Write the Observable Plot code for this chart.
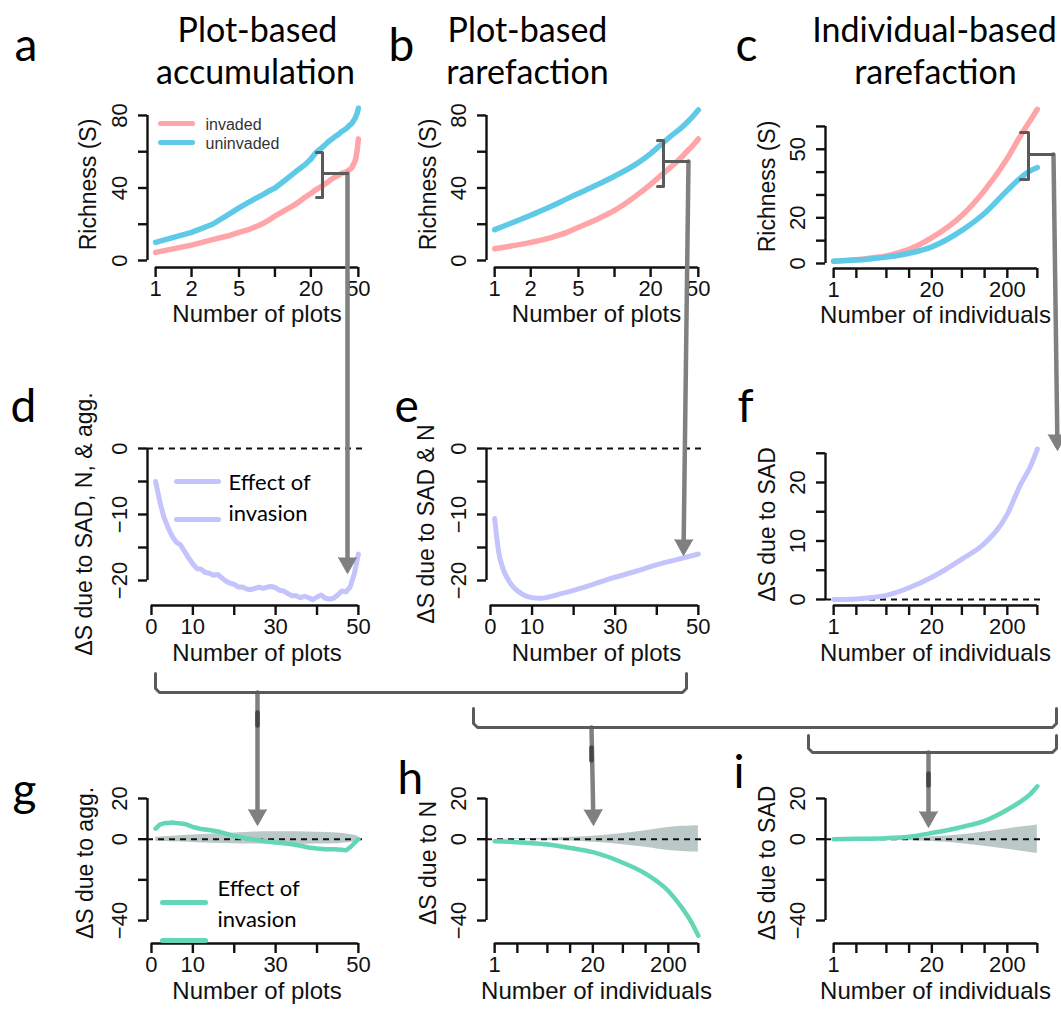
<!DOCTYPE html>
<html><head><meta charset="utf-8">
<script src="https://cdn.jsdelivr.net/npm/d3@7"></script>
<script src="https://cdn.jsdelivr.net/npm/@observablehq/plot@0.6"></script>
<style>
body{margin:0;background:#fff;}
#fig{position:relative;width:1061px;height:1012px;overflow:hidden;background:#fff;}
#fig svg{position:absolute;}
</style></head><body><div id="fig"></div><script>
// ---------------- DATA ----------------
// a: plot-based accumulation
const aPlots = [1,2,3,4,5,6,7,8,9,10,12,14,16,18,20,22,24,26,28,30,32,34,36,38,40,42,44,45,46,47,48,49,50];
const aUninvaded = [10,15.5,20,25,29,32,34.5,36.5,38.5,40,44,47.5,50.5,53,56,59.5,61.5,63.5,65.5,67,68.5,69.5,71,72,73,74.5,75.5,76.5,77.5,78.5,80,81.5,84];
const aInvaded = [4.5,8.5,11.5,13.5,15.5,17,18.8,20.5,22.5,24.5,27.5,30,32.5,35,37,39,40.5,42,43.5,45,46,47,48,48.5,49,50,51,52.5,53.5,55,57.5,61.5,67];
// b: plot-based rarefaction
const bPlots = [1,2,3,4,5,7,10,15,20,25,30,35,40,45,50];
const bUninvaded = [17,25,30,34,37,41.5,46.5,53,59,64.5,69,72.5,76,79.5,83];
const bInvaded = [6.5,10,12.8,15.5,18.3,22.5,27.6,35.5,42,47.5,52,56,60,63.5,67];
// c: individual-based rarefaction
const cIndiv = [1,2,3,5,10,20,50,100,200,300,400,500];
const cInvaded = [1,1.7,2.3,3.3,6.2,11.3,21,32,46,56,62.5,67.5];
const cUninvaded = [1,1.5,2,2.8,4.5,7.3,14.5,22,32,37.5,40.5,42];
// d: ΔS due to SAD, N & agg.
const dPlots = d3.range(1, 51);
const dEffect = [-5,-8,-10.4,-12,-13.3,-14.2,-14.6,-15.6,-16.6,-17.5,-18.2,-18.3,-18.8,-18.9,-19.2,-19.1,-19.6,-20.1,-20.4,-20.6,-21,-21,-21.3,-21.4,-21.2,-21,-21.2,-21,-20.9,-21.1,-21.5,-21.6,-22,-22.3,-22.3,-22.6,-22.4,-22.6,-22.9,-22.5,-22.2,-22.7,-22.8,-22.7,-22.2,-21.6,-21.7,-21,-19,-16];
// e: ΔS due to SAD & N
const ePlots = [1,2,3,4,5,6,7,8,10,12,14,17,20,25,30,35,40,45,50];
const eEffect = [-10.6,-15.8,-18.2,-19.6,-20.6,-21.3,-21.8,-22.2,-22.6,-22.7,-22.5,-22,-21.5,-20.5,-19.5,-18.6,-17.6,-16.8,-16];
// f: ΔS due to SAD
const fIndiv = [1,2,3,5,10,20,50,100,200,300,400,500];
const fEffect = [0,0.1,0.3,0.7,2.0,3.8,6.9,9.6,14.6,19.7,22.6,25.7];
// g: ΔS due to agg.
const gPlots = [1,2,3,4,5,6,7,8,9,10,12,14,16,18,20,22,24,26,28,30,32,34,36,38,40,42,44,46,47,48,49,50];
const gEffect = [5.2,7.2,7.8,8,8.2,7.9,7.7,7.5,6.8,6,5,4.5,3.8,2.7,1.5,0.8,0,-0.5,-1.2,-1.6,-2,-2.5,-3.2,-4.1,-4.6,-5,-5,-5.2,-5.5,-4,-2,0];
const gNullPlots = [1,5,10,15,20,25,30,35,40,45,50];
const gNullHi = [1,1.5,2,2.5,3,3.5,3.7,3.6,3.4,3,1.5];
const gNullLo = [-1,-1.3,-1.6,-2,-2.2,-2.4,-2.5,-2.5,-2.4,-2.2,-1];
// h: ΔS due to N
const hIndiv = [1,2,5,10,20,50,100,200,300,400,500];
const hEffect = [-1,-1.5,-2.6,-4.3,-6.4,-11.6,-17,-25.5,-33.5,-40.5,-47.5];
const hNullHi = [0,0.2,0.5,0.9,1.5,2.8,4.2,5.8,6.3,6.5,6.6];
const hNullLo = [0,-0.2,-0.5,-0.9,-1.5,-2.7,-4,-5.6,-6.1,-6.3,-6.4];
// i: ΔS due to SAD (individual-based)
const iIndiv = [1,2,5,10,20,50,100,200,300,400,500];
const iEffect = [0,0.2,0.5,1.2,3,6,9,14.5,18.5,22,26];
const iNullHi = [0,0.1,0.4,0.7,1.2,2.2,3.5,5,6,6.5,7];
const iNullLo = [0,-0.1,-0.4,-0.7,-1.2,-2.2,-3.5,-5,-5.9,-6.5,-7];
// ticks
const plotsLogTicks = [1,2,5,10,20,50], plotsLogLabels = [1,2,5,20,50];
const indivTicks = [1,2,5,10,20,50,100,200,500], indivLabels = [1,5,20,200];
const plotsLinTicks = [0,10,20,30,40,50], plotsLinLabels = [0,10,30,50];
const richTicksAB = [0,20,40,60,80], richLabelsAB = [0,40,80];
const richTicksC = [0,10,20,30,40,50,60], richLabelsC = [0,20,50];
const dTicks = [0,-5,-10,-15,-20], dLabels = [0,-10,-20];
const fTicks = [0,5,10,15,20,25], fLabels = [0,10,20];
const gTicks = [20,0,-20,-40], gLabels = [20,0,-40];
const seriesNames = ["invaded","uninvaded"];
const legendEffect = ["Effect of","invasion"];

// ---------------- STYLE ----------------
const C = {pink:"#ffa4a7", blue:"#5fcae8", lav:"#c4c3fb", green:"#62d6b5", band:"#b3c3c1", arrow:"#808080", bracket:"#5a5a5a"};
const SANS = "'Liberation Sans', Arial, sans-serif";
const CAL = "Lato, 'Open Sans', sans-serif";
const fmt = d3.format("d");
const fig = document.getElementById("fig");
const rows = (xs, ...cols) => xs.map((x, i) => ({x, v: cols.map(c => c[i])}));

function panel(p) {
  const ml = 85, mr = 14, mt = 14, mb = 80;
  const w = p.box.r - p.box.l, h = p.box.b - p.box.t;
  const chart = Plot.plot({
    width: w + ml + mr, height: h + mt + mb,
    marginLeft: ml, marginRight: mr, marginTop: mt, marginBottom: mb,
    style: {background: "transparent", overflow: "visible", fontFamily: SANS, color: "#111"},
    x: {type: p.xType, domain: p.xDomain},
    y: {type: "linear", domain: p.yDomain},
    marks: [
      ...p.marks,
      Plot.ruleX([p.xDomain[0]], {y1: d3.min(p.yTicks), y2: d3.max(p.yTicks), stroke: "#111", strokeWidth: 2.4}),
      Plot.axisY({ticks: p.yTicks, tickSize: 9, tickPadding: 12, tickRotate: -90, textAnchor: "middle", lineAnchor: "bottom",
        tickFormat: d => p.yLabels.includes(d) ? fmt(d) : "", fontSize: 22, fontFamily: SANS, stroke: "#111", strokeWidth: 2.4, label: null}),
      Plot.ruleY([p.yDomain[0]], {x1: d3.min(p.xTicks), x2: d3.max(p.xTicks), stroke: "#111", strokeWidth: 2.4}),
      Plot.axisX({ticks: p.xTicks, tickSize: 10, tickPadding: 3, tickFormat: d => p.xLabels.includes(d) ? fmt(d) : "", fontSize: 22, fontFamily: SANS, stroke: "#111", strokeWidth: 2.4, label: null}),
      Plot.text([p.xTitle], {text: d => d, frameAnchor: "bottom", textAnchor: "middle", dy: p.xTitleDy ?? 54, fontSize: 24, fontFamily: SANS, fill: "#111"}),
      Plot.text([p.yTitle], {text: d => d, frameAnchor: "left", textAnchor: "middle", lineAnchor: "middle", rotate: -90, dx: p.yTitleDx ?? -60, fontSize: 23, fontFamily: SANS, fill: "#111"})
    ]
  });
  chart.style.left = (p.box.l - ml) + "px";
  chart.style.top = (p.box.t - mt) + "px";
  fig.appendChild(chart);
}

const line = (data, k, stroke, width, curve) => Plot.line(data, {x: "x", y: d => d.v[k], stroke, strokeWidth: width, curve, strokeLinecap: "round", strokeLinejoin: "round"});
const zero = Plot.ruleY([0], {stroke: "#111", strokeWidth: 2, strokeDasharray: "6,5"});
const band = (data) => Plot.areaY(data, {x: "x", y1: d => d.v[1], y2: d => d.v[2], fill: C.band, fillOpacity: 0.9, curve: "monotone-x"});

const LOG_PLOTS = [0.855, 58.5], LOG_IND = [0.78, 641], LIN_PLOTS = [-0.96, 51.96];

// a
panel({box:{l:147,t:101,r:366,b:267}, xType:"log", xDomain:LOG_PLOTS, yDomain:[-3.86,87.7],
  xTicks:plotsLogTicks, xLabels:plotsLogLabels, yTicks:richTicksAB, yLabels:richLabelsAB,
  xTitle:"Number of plots", yTitle:"Richness (S)", yTitleDx:-59,
  marks:[line(rows(aPlots,aInvaded),0,C.pink,5.5,"linear"), line(rows(aPlots,aUninvaded),0,C.blue,5.5,"linear")]});
// b
panel({box:{l:486,t:101,r:706,b:267}, xType:"log", xDomain:LOG_PLOTS, yDomain:[-3.86,87.7],
  xTicks:plotsLogTicks, xLabels:plotsLogLabels, yTicks:richTicksAB, yLabels:richLabelsAB,
  xTitle:"Number of plots", yTitle:"Richness (S)", yTitleDx:-58,
  marks:[line(rows(bPlots,bInvaded),0,C.pink,5.5,"monotone-x"), line(rows(bPlots,bUninvaded),0,C.blue,5.5,"monotone-x")]});
// c
panel({box:{l:825,t:104,r:1045,b:268}, xType:"log", xDomain:LOG_IND, yDomain:[-2.19,69.6],
  xTicks:indivTicks, xLabels:indivLabels, yTicks:richTicksC, yLabels:richLabelsC,
  xTitle:"Number of individuals", yTitle:"Richness (S)", yTitleDx:-58,
  marks:[line(rows(cIndiv,cInvaded),0,C.pink,5.5,"monotone-x"), line(rows(cIndiv,cUninvaded),0,C.blue,5.5,"monotone-x")]});
// d
panel({box:{l:147,t:442,r:366,b:605}, xType:"linear", xDomain:LIN_PLOTS, yDomain:[-23.79,0.91],
  xTicks:plotsLinTicks, xLabels:plotsLinLabels, yTicks:dTicks, yLabels:dLabels,
  xTitle:"Number of plots", yTitle:"ΔS due to SAD, N, & agg.", yTitleDx:-63, xTitleDy:55,
  marks:[zero, line(rows(dPlots,dEffect),0,C.lav,5,"linear")]});
// e
panel({box:{l:486,t:442,r:706,b:605}, xType:"linear", xDomain:LIN_PLOTS, yDomain:[-23.79,0.91],
  xTicks:plotsLinTicks, xLabels:plotsLinLabels, yTicks:dTicks, yLabels:dLabels,
  xTitle:"Number of plots", yTitle:"ΔS due to SAD & N", yTitleDx:-60, xTitleDy:55,
  marks:[zero, line(rows(ePlots,eEffect),0,C.lav,5,"monotone-x")]});
// f
panel({box:{l:825,t:443,r:1045,b:605}, xType:"log", xDomain:LOG_IND, yDomain:[-1.03,26.67],
  xTicks:indivTicks, xLabels:indivLabels, yTicks:fTicks, yLabels:fLabels,
  xTitle:"Number of individuals", yTitle:"ΔS due to SAD", yTitleDx:-58, xTitleDy:55,
  marks:[zero, line(rows(fIndiv,fEffect),0,C.lav,5,"monotone-x")]});
// g
panel({box:{l:147,t:782,r:366,b:943}, xType:"linear", xDomain:LIN_PLOTS, yDomain:[-51.3,27.87],
  xTicks:plotsLinTicks, xLabels:plotsLinLabels, yTicks:gTicks, yLabels:gLabels,
  xTitle:"Number of plots", yTitle:"ΔS due to agg.", yTitleDx:-62, xTitleDy:55,
  marks:[band(rows(gNullPlots,gNullPlots,gNullHi,gNullLo)), zero, line(rows(gPlots,gEffect),0,C.green,4.5,"linear")]});
// h
panel({box:{l:486,t:782,r:706,b:943}, xType:"log", xDomain:LOG_IND, yDomain:[-51.3,27.87],
  xTicks:indivTicks, xLabels:indivLabels, yTicks:gTicks, yLabels:gLabels,
  xTitle:"Number of individuals", yTitle:"ΔS due to N", yTitleDx:-58, xTitleDy:55,
  marks:[band(rows(hIndiv,hIndiv,hNullHi,hNullLo)), zero, line(rows(hIndiv,hEffect),0,C.green,4.5,"monotone-x")]});
// i
panel({box:{l:825,t:782,r:1045,b:943}, xType:"log", xDomain:LOG_IND, yDomain:[-51.3,27.87],
  xTicks:indivTicks, xLabels:indivLabels, yTicks:gTicks, yLabels:gLabels,
  xTitle:"Number of individuals", yTitle:"ΔS due to SAD", yTitleDx:-58, xTitleDy:55,
  marks:[band(rows(iIndiv,iIndiv,iNullHi,iNullLo)), zero, line(rows(iIndiv,iEffect),0,C.green,4.5,"monotone-x")]});

// ---------------- ANNOTATION LAYER (page pixels) ----------------
const brackets = [
  [[316,152],[322,152],[322,197],[316,197]], [[322,173],[347,173]],
  [[657,140],[663,140],[663,186],[657,186]], [[663,161],[688,161]],
  [[1020,132],[1028,132],[1028,179],[1020,179]], [[1028,154],[1053,154]],
  [[155,673],[155,688],[159,692],[682,692],[686,688],[686,673]],
  [[473,708],[473,723],[477,727],[1052,727],[1056,723],[1056,708]],
  [[808,735],[808,748],[812,752],[1052,752],[1056,748],[1056,735]]
];
const arrows = [
  [[347,173],[347,573]], [[688,161],[683,555]], [[1053,154],[1057,450]],
  [[257,692],[257,825]], [[591,727],[593,825]], [[928,752],[928,827]]
];
const stemMarks = [[[257,712],[257,725]], [[591,747],[591,760]], [[928,773],[928,785]]];
const toPts = (paths) => paths.flatMap((p, id) => p.map(([x, y]) => ({x, y, id})));
const heads = arrows.map(([[x0,y0],[x1,y1]]) => {
  const L = Math.hypot(x1-x0, y1-y0), ux = (x1-x0)/L, uy = (y1-y0)/L, len = 16, hw = 9;
  const bx = x1 - ux*len, by = y1 - uy*len;
  return [[bx - uy*hw, by + ux*hw], [x1, y1], [bx + uy*hw, by - ux*hw]];
});
const shafts = arrows.map(([[x0,y0],[x1,y1]]) => {
  const L = Math.hypot(x1-x0, y1-y0);
  return [[x0,y0],[x1 - (x1-x0)/L*14, y1 - (y1-y0)/L*14]];
});
const texts = {
  letters: [["a",14,60],["b",388,60],["c",735,60],["d",10,421],["e",394,421],["f",737,421],["g",12,805],["h",397,793],["i",733,787]],
  titles: [["Plot-based",257,41],["accumulation",255,83],["Plot-based",527,41],["rarefaction",527,83],["Individual-based",934,41],["rarefaction",935,83]],
  legA: [[seriesNames[0],205,124],[seriesNames[1],205,143]],
  legD: [[legendEffect[0],228,482],[legendEffect[1],228,513]],
  legG: [[legendEffect[0],217,888],[legendEffect[1],217,919]]
};
const legLines = [
  {pts:[[160,123],[192,123]], c:C.pink}, {pts:[[160,142],[192,142]], c:C.blue},
  {pts:[[176,481],[218,481]], c:C.lav}, {pts:[[176,519],[218,519]], c:C.lav},
  {pts:[[162,902],[205,902]], c:C.green}, {pts:[[162,940],[205,940]], c:C.green}
];
const T = (arr) => arr.map(([t,x,y]) => ({t,x,y}));
const overlay = Plot.plot({
  width: 1061, height: 1012, margin: 0,
  style: {background: "transparent", overflow: "visible"},
  x: {domain: [0,1061], range: [0,1061], axis: null},
  y: {domain: [0,1012], range: [0,1012], axis: null},
  marks: [
    ...legLines.map(l => Plot.line(l.pts, {x: d => d[0], y: d => d[1], stroke: l.c, strokeWidth: 5})),
    Plot.line(toPts(shafts), {x: "x", y: "y", z: "id", stroke: C.arrow, strokeWidth: 4.5}),
    Plot.line(toPts(heads), {x: "x", y: "y", z: "id", fill: C.arrow, stroke: C.arrow, strokeWidth: 1}),
    Plot.line(toPts(brackets), {x: "x", y: "y", z: "id", stroke: C.bracket, strokeWidth: 3, strokeLinejoin: "round"}),
    Plot.line(toPts(stemMarks), {x: "x", y: "y", z: "id", stroke: "#454545", strokeWidth: 4.5}),
    Plot.text(T(texts.letters), {x: "x", y: "y", text: "t", textAnchor: "start", lineAnchor: "bottom", fontSize: 46, fontFamily: CAL, fill: "#000"}),
    Plot.text(T(texts.titles), {x: "x", y: "y", text: "t", textAnchor: "middle", lineAnchor: "bottom", fontSize: 34, fontFamily: CAL, fill: "#000"}),
    Plot.text(T(texts.legA), {x: "x", y: "y", text: "t", textAnchor: "start", lineAnchor: "middle", fontSize: 16, fontFamily: SANS, fill: "#333"}),
    Plot.text(T(texts.legD), {x: "x", y: "y", text: "t", textAnchor: "start", lineAnchor: "middle", fontSize: 22, fontFamily: CAL, fill: "#000"}),
    Plot.text(T(texts.legG), {x: "x", y: "y", text: "t", textAnchor: "start", lineAnchor: "middle", fontSize: 22, fontFamily: CAL, fill: "#000"})
  ]
});
overlay.style.left = "0px"; overlay.style.top = "0px";
fig.appendChild(overlay);
</script></body></html>
